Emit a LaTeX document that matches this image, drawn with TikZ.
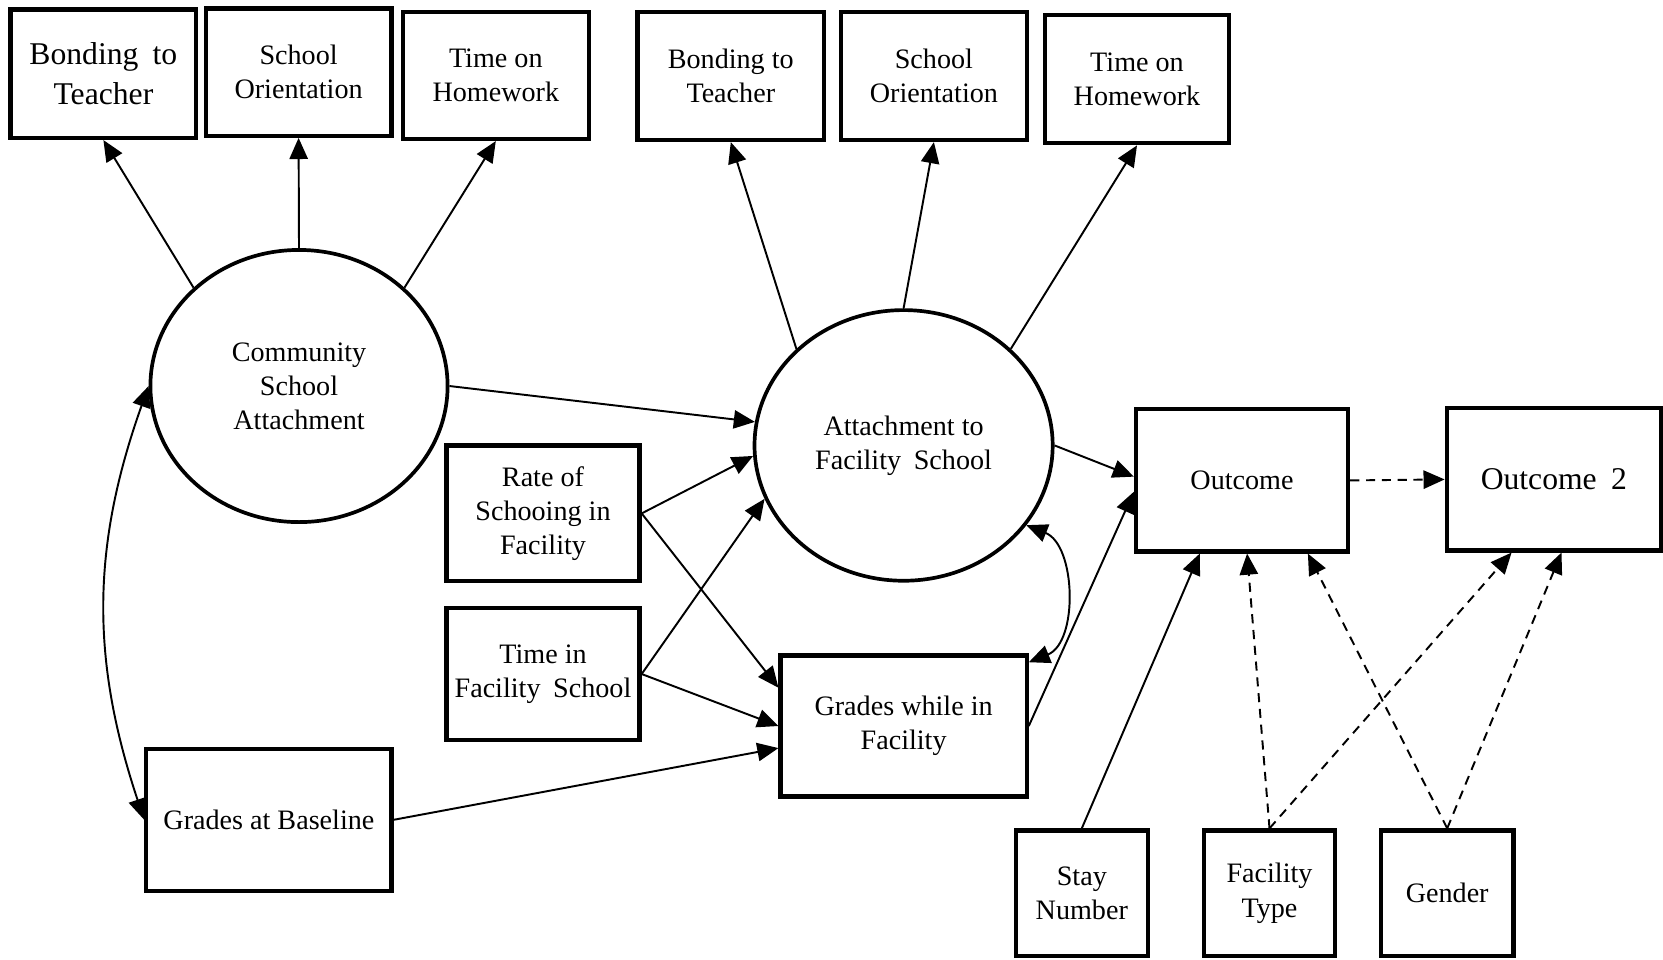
\documentclass[tikz,border=0pt]{standalone}
\usepackage{fontspec}
\setmainfont{Liberation Serif}
\usetikzlibrary{arrows.meta,shapes.geometric}
\newcommand\widegap{\hspace{0.45em}}

\begin{document}
\begin{tikzpicture}[x=0.01cm,y=-0.01cm,
  txt/.style={font=\fontsize{8}{9.7}\selectfont, align=center},
  box/.style={draw, line width=1.2pt, inner sep=0pt, txt},
  latent/.style={draw, ellipse, line width=1.05pt, inner sep=0pt, txt},
  tip/.tip={Triangle[length=6pt,width=5.2pt]},
  path/.style={line width=0.55pt, -tip},
  both/.style={line width=0.55pt, tip-tip},
  opt/.style={path, dash pattern=on 2.6pt off 1.9pt}
]
\useasboundingbox (0,0) rectangle (1663,959);

% indicators of the two latent factors
\node[box, minimum width=1.856cm, minimum height=1.284cm, font=\fontsize{9}{11.2}\selectfont] (bt1) at (103.4,73.7) {Bonding\widegap to\\Teacher};
\node[box, minimum width=1.856cm, minimum height=1.273cm] (so1) at (298.6,72.1) {School\\Orientation};
\node[box, minimum width=1.856cm, minimum height=1.272cm] (th1) at (495.8,75.3) {Time on\\Homework};
\node[box, minimum width=1.867cm, minimum height=1.283cm] (bt2) at (730.8,75.8) {Bonding to\\Teacher};
\node[box, minimum width=1.857cm, minimum height=1.283cm] (so2) at (933.9,75.8) {School\\Orientation};
\node[box, minimum width=1.845cm, minimum height=1.284cm] (th2) at (1137,79) {Time on\\Homework};

% latent factors
\node[latent, minimum width=2.97cm, minimum height=2.72cm] (comm) at (299,386) {Community\\School\\Attachment};
\node[latent, minimum width=2.98cm, minimum height=2.705cm] (att) at (903.6,445.4) {Attachment to\\Facility\widegap School};

% observed predictors
\node[box, minimum width=1.93cm, minimum height=1.357cm] (rate) at (543,513.4) {Rate of\\Schooing in\\Facility};
\node[box, minimum width=1.93cm, minimum height=1.326cm] (time) at (543,674) {Time in\\Facility\widegap School};
\node[box, minimum width=2.46cm, minimum height=1.41cm] (gwf) at (903.6,726) {Grades while in\\Facility};
\node[box, minimum width=2.45cm, minimum height=1.42cm] (gab) at (268.9,819.8) {Grades at Baseline};

% outcomes
\node[box, minimum width=2.12cm, minimum height=1.42cm] (out) at (1242,480.4) {Outcome};
\node[box, minimum width=2.14cm, minimum height=1.42cm, font=\fontsize{9}{11}\selectfont] (out2) at (1553.8,479.4) {Outcome\widegap 2};

% covariates
\node[box, minimum width=1.316cm, minimum height=1.256cm] (stay) at (1081.8,893.3) {Stay\\Number};
\node[box, minimum width=1.315cm, minimum height=1.256cm] (ft) at (1269.5,893.3) {Facility\\Type};
\node[box, minimum width=1.326cm, minimum height=1.256cm] (gen) at (1447.2,893.3) {Gender};

% loadings
\draw[path] (comm.137) -- (bt1.south);
\draw[path] (comm.north) -- (so1.south);
\draw[path] (comm.43) -- (th1.south);
\draw[path] (att.138) -- (bt2.south);
\draw[path] (att.north) -- (so2.south);
\draw[path] (att.42) -- (th2.south);

% structural paths
\draw[path] (comm.east) -- (att.171);
\draw[path] (rate.east) -- (att.184);
\draw[path] (rate.east) -- (gwf.163);
\draw[path] (time.east) -- (att.201);
\draw[path] (time.east) -- (gwf.west);
\draw[path] (gab.east) -- (gwf.190);
\draw[path] (att.east) -- (out.178);
\draw[path] (gwf.east) -- (out.186);
\draw[path] (stay.north) -- (out.240);

% covariances
\draw[both] (comm.west) to[bend right=19] (gab.west);
\draw[both] (att.-33) to[out=-22,in=22] (gwf.27);

% dashed paths
\draw[opt] (out.east) -- (out2.west);
\draw[opt] (ft.north) -- (out.274);
\draw[opt] (ft.north) -- (out2.240);
\draw[opt] (gen.north) -- (out.312);
\draw[opt] (gen.north) -- (out2.276);
\end{tikzpicture}
\end{document}
